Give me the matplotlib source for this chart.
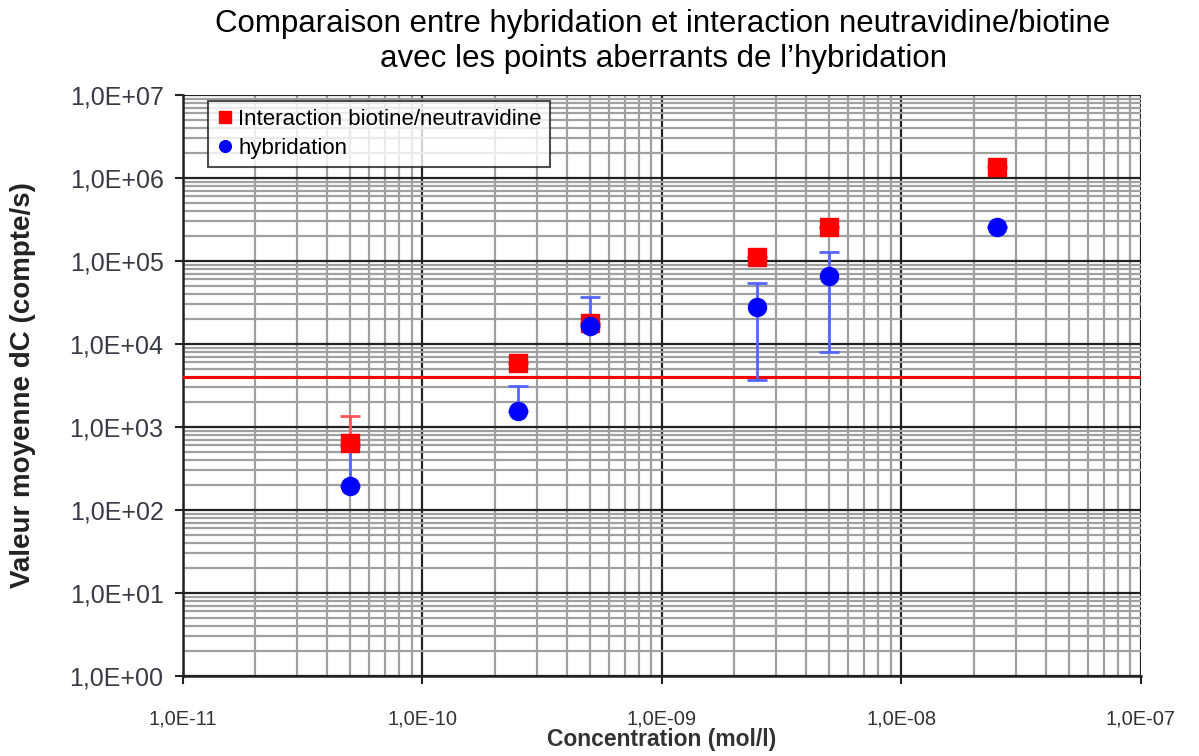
import numpy as np
import matplotlib
matplotlib.use("Agg")
from matplotlib import pyplot as plt
from matplotlib.ticker import LogLocator, FuncFormatter, NullFormatter

plt.rcParams['font.family'] = ['Liberation Sans', 'DejaVu Sans']

# donnees
conc = [5e-11, 2.5e-10, 5e-10, 2.5e-9, 5e-9, 2.5e-8]

# interaction biotine/neutravidine
biot = [640, 5900, 17900, 112000, 257000, 1360000]
biot_err_bas = [0, 0, 0, 0, 0, 0]
biot_err_haut = [720, 0, 0, 0, 0, 0]

# hybridation
hyb = [195, 1560, 16500, 27900, 65900, 257000]
hyb_err_bas = [0, 0, 0, 24200, 57900, 0]
hyb_err_haut = [400, 1560, 20300, 26400, 62100, 0]

seuil = 4000

x_ticks = [1e-11, 1e-10, 1e-9, 1e-8, 1e-7]
y_ticks = [1e0, 1e1, 1e2, 1e3, 1e4, 1e5, 1e6, 1e7]

fig = plt.figure(figsize=(11.99, 7.56), dpi=100)
ax = fig.add_axes([0.1526, 0.1058, 0.7990, 0.7685])
ax.set_xscale('log')
ax.set_yscale('log')
ax.set_xlim(1e-11, 1e-7)
ax.set_ylim(1e0, 1e7)
ax.set_xticks(x_ticks)
ax.set_yticks(y_ticks)

# grilles
ax.grid(True, which='major', color='#222222', linewidth=1.6, zorder=1)
ax.grid(True, which='minor', color='#a0a0a0', linewidth=1.6, zorder=0)
ax.xaxis.set_minor_locator(LogLocator(base=10, subs=np.arange(2, 10)))
ax.yaxis.set_minor_locator(LogLocator(base=10, subs=np.arange(2, 10)))
ax.xaxis.set_minor_formatter(NullFormatter())
ax.yaxis.set_minor_formatter(NullFormatter())
ax.tick_params(which='minor', length=0)
ax.tick_params(which='major', length=6, width=1.5, color='#222222')

def fmt(v, pos):
    e = int(round(np.log10(v)))
    signe = '+' if e >= 0 else '-'
    return '1,0E%s%02d' % (signe, abs(e))

ax.xaxis.set_major_formatter(FuncFormatter(fmt))
ax.yaxis.set_major_formatter(FuncFormatter(fmt))
ax.tick_params(axis='x', pad=18, labelcolor='#333333', labelsize=14.5)
ax.tick_params(axis='y', pad=8, labelcolor='#3a3a44', labelsize=18)

for s in ['top', 'right']:
    ax.spines[s].set_visible(False)
ax.spines['left'].set_linewidth(1.8)
ax.spines['bottom'].set_linewidth(1.8)
ax.spines['left'].set_color('#222222')
ax.spines['bottom'].set_color('#222222')

# ligne seuil
ax.axhline(seuil, color='red', linewidth=2.2, zorder=3)

# barres d'erreur
ax.errorbar(conc, hyb, yerr=[hyb_err_bas, hyb_err_haut], fmt='none',
            ecolor='#5566ff', elinewidth=2, capsize=7, capthick=2, zorder=3)
ax.errorbar(conc, biot, yerr=[biot_err_bas, biot_err_haut], fmt='none',
            ecolor='#ff5555', elinewidth=2, capsize=7, capthick=2, zorder=3)

ax.plot(conc, biot, 's', color='red', markersize=13, linestyle='none',
        label='Interaction biotine/neutravidine', zorder=4)
ax.plot(conc, hyb, 'o', color='blue', markersize=13, linestyle='none',
        label='hybridation', zorder=5)

leg = ax.legend(loc='upper left', bbox_to_anchor=(0.022, 0.997), fontsize=16,
                frameon=True, fancybox=False, handletextpad=0.2,
                handlelength=0.8, markerscale=0.65, borderpad=0.35,
                labelspacing=0.35, borderaxespad=0.2)
leg.get_frame().set_edgecolor('#222222')
leg.get_frame().set_linewidth(1.5)
leg.set_zorder(10)

ax.set_xlabel('Concentration (mol/l)', fontsize=16.5, fontweight='bold',
              color='#333333', labelpad=0)
ax.set_ylabel('Valeur moyenne dC (compte/s)', fontsize=20, fontweight='bold',
              color='#222222', labelpad=24)

fig.text(0.553, 0.968, 'Comparaison entre hybridation et interaction neutravidine/biotine',
         ha='center', va='center', fontsize=22.5)
fig.text(0.553, 0.922, "avec les points aberrants de l\u2019hybridation",
         ha='center', va='center', fontsize=22.5)

fig.savefig('out.png', dpi=100)
